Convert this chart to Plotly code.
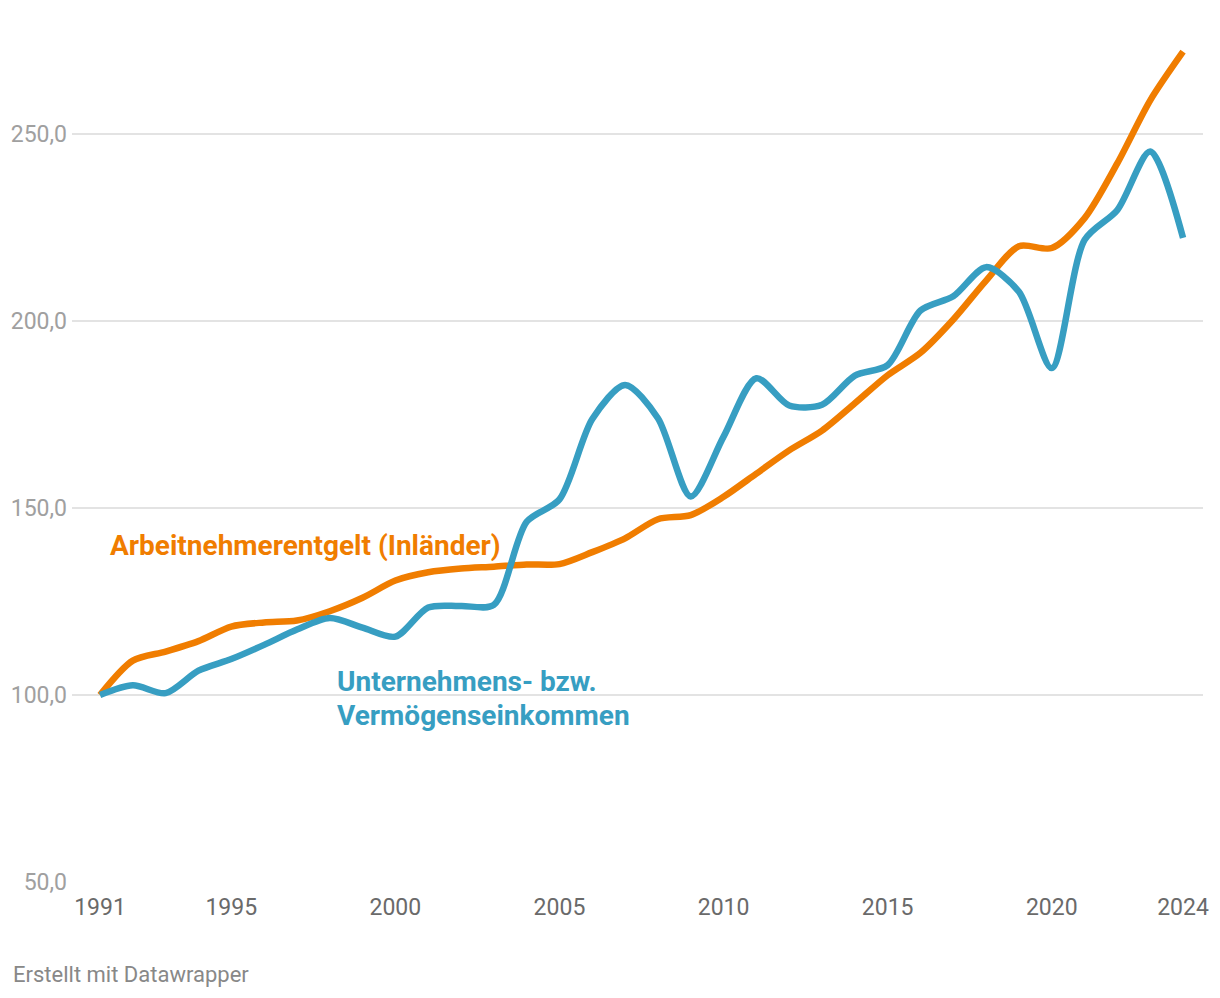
import plotly.graph_objects as go

years = list(range(1991, 2025))

arbeitnehmer = [100.0, 109.2, 111.6, 114.4, 118.3, 119.4, 119.9, 122.4, 126.0, 130.6,
                132.8, 133.8, 134.3, 134.9, 135.0, 138.2, 141.9, 147.0, 148.1, 153.0,
                159.2, 165.4, 170.7, 178.0, 185.5, 191.5, 200.4, 210.8, 220.0, 219.5,
                227.5, 242.2, 259.0, 272.0]

unternehmen = [100.0, 102.6, 100.5, 106.5, 109.6, 113.4, 117.5, 120.6, 118.0, 115.6,
               123.4, 123.8, 124.1, 146.3, 152.3, 173.8, 182.9, 174.0, 153.1, 169.1,
               184.7, 177.4, 177.6, 185.4, 188.2, 202.8, 206.6, 214.4, 207.8, 187.4,
               221.7, 229.7, 245.3, 222.2]

x_ticks = [1991, 1995, 2000, 2005, 2010, 2015, 2020, 2024]
y_ticks = [50, 100, 150, 200, 250]

ORANGE = "#f07d00"
BLUE = "#379ec2"

fig = go.Figure()
fig.add_trace(go.Scatter(x=years, y=arbeitnehmer, mode="lines",
                         line=dict(color=ORANGE, width=6.5, shape="spline", smoothing=0.8),
                         hoverinfo="skip", showlegend=False))
fig.add_trace(go.Scatter(x=years, y=unternehmen, mode="lines",
                         line=dict(color=BLUE, width=6.5, shape="spline", smoothing=0.8),
                         hoverinfo="skip", showlegend=False))

fig.add_annotation(x=1991.244, y=140.1, xref="x", yref="y", text="<b>Arbeitnehmerentgelt (Inländer)</b>",
                   showarrow=False, xanchor="left", yanchor="middle",
                   font=dict(family="Roboto", size=28, color=ORANGE))
fig.add_annotation(x=1998.16, y=103.7, xref="x", yref="y", text="<b>Unternehmens- bzw.</b>",
                   showarrow=False, xanchor="left", yanchor="middle",
                   font=dict(family="Roboto", size=28, color=BLUE))
fig.add_annotation(x=1998.16, y=94.6, xref="x", yref="y", text="<b>Vermögenseinkommen</b>",
                   showarrow=False, xanchor="left", yanchor="middle",
                   font=dict(family="Roboto", size=28, color=BLUE))
fig.add_annotation(x=-0.0539, y=-0.1093, xref="paper", yref="paper", text="Erstellt mit Datawrapper",
                   showarrow=False, xanchor="left", yanchor="middle",
                   font=dict(family="Roboto", size=22, color="#888888"))

fig.update_layout(
    width=1212, height=990,
    margin=dict(l=64, r=17, t=32, b=116, autoexpand=False),
    paper_bgcolor="white", plot_bgcolor="white",
    separators=",.",
    font=dict(family="Roboto"),
    xaxis=dict(range=[1990.147, 2024.608], tickvals=x_ticks, ticktext=[str(v) for v in x_ticks],
               showgrid=False, zeroline=False, showline=False, ticks="", automargin=False,
               tickfont=dict(family="Roboto", size=23, color="#6a6a6a"), ticklabelstandoff=9),
    yaxis=dict(range=[50, 275.13], tickvals=y_ticks, tickformat=".1f", automargin=False,
               showgrid=True, gridcolor="#e3e3e3", gridwidth=1.5, zeroline=False, showline=False, ticks="",
               tickfont=dict(family="Roboto", size=23, color="#a0a0a0"), ticklabelstandoff=4),
)

fig.write_html("out.html")
